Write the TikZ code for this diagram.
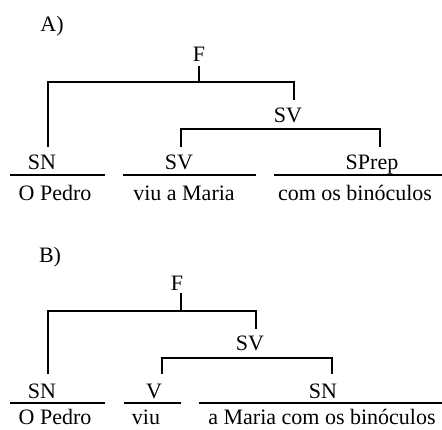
\documentclass[tikz,border=0pt]{standalone}
\usepackage{fontspec}
\setmainfont{Liberation Serif}
\begin{document}
\begin{tikzpicture}[x=1pt,y=-1pt,
  lbl/.style={anchor=base,inner sep=0pt,font=\fontsize{22}{24}\selectfont},
  tree/.style={line width=2pt,line cap=rect},
  uline/.style={line width=1.4pt}]
\useasboundingbox (0,0) rectangle (442,429);
% ---- A ----
\node[lbl] (tA) at (52,31) {A)};
\node[lbl] (FA) at (199,61) {F};
\node[lbl] (SVA) at (288,122) {SV};
\node[lbl] (SNA1) at (42,169) {SN};
\node[lbl] (SVA2) at (179,169) {SV};
\node[lbl] (SPA) at (372,169) {SPrep};
\node[lbl] (wA1) at (55,200) {O Pedro};
\node[lbl] (wA2) at (184,200) {viu a Maria};
\node[lbl] (wA3) at (355,200) {com os binóculos};
\coordinate (a1) at (199,67);
\coordinate (a2) at (199,82);
\coordinate (a3) at (48,146);
\coordinate (a4) at (294,99);
\coordinate (a5) at (181,146);
\coordinate (a6) at (380,146);
\coordinate (a7) at (181,129);
\draw[tree] (a1) -- (a2);
\draw[tree] (a3) |- (a2) -| (a4);
\draw[tree] (a5) |- (a7) -| (a6);
\draw[uline] (10,175) -- (105,175);
\draw[uline] (123,175) -- (256,175);
\draw[uline] (274,175) -- (442,175);
% ---- B ----
\node[lbl] (tB) at (50,262) {B)};
\node[lbl] (FB) at (177,290) {F};
\node[lbl] (SVB) at (250,350) {SV};
\node[lbl] (SNB1) at (42,398) {SN};
\node[lbl] (VB) at (154,398) {V};
\node[lbl] (SNB2) at (323,398) {SN};
\node[lbl] (wB1) at (55,424) {O Pedro};
\node[lbl] (wB2) at (146,424) {viu};
\node[lbl] (wB3) at (322,424) {a Maria com os binóculos};
\coordinate (b1) at (181,294);
\coordinate (b2) at (181,311);
\coordinate (b3) at (48,373);
\coordinate (b4) at (256,328);
\coordinate (b5) at (162,373);
\coordinate (b6) at (332,373);
\coordinate (b7) at (162,358);
\draw[tree] (b1) -- (b2);
\draw[tree] (b3) |- (b2) -| (b4);
\draw[tree] (b5) |- (b7) -| (b6);
\draw[uline] (10,403) -- (105,403);
\draw[uline] (124,403) -- (181,403);
\draw[uline] (199,403) -- (442,403);
\end{tikzpicture}
\end{document}
